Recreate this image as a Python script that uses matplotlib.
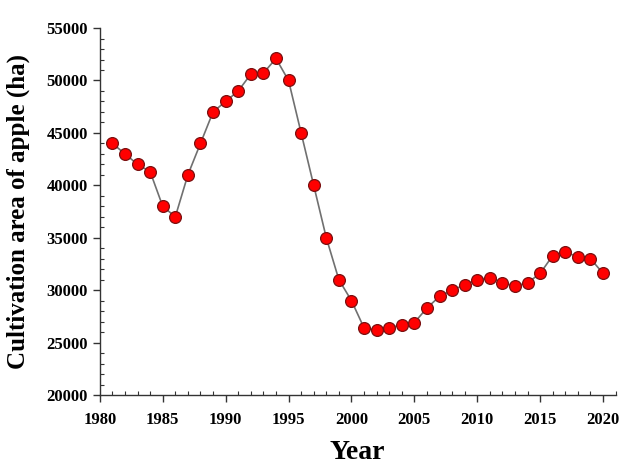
import matplotlib.pyplot as plt
from matplotlib.ticker import MultipleLocator

# Cultivation area of apple, 1981-2020
years = list(range(1981, 2021))
area = [44000, 43000, 42000, 41300, 38000, 37000, 41000, 44000, 47000, 48000,
        49000, 50600, 50700, 52100, 50000, 45000, 40000, 35000, 31000, 29000,
        26400, 26200, 26400, 26700, 26900, 28300, 29400, 30000, 30500, 31000,
        31200, 30700, 30400, 30700, 31600, 33300, 33600, 33200, 33000, 31600]

plt.rcParams['font.family'] = ['Liberation Serif', 'DejaVu Serif']

fig = plt.figure(figsize=(6.2, 4.68), dpi=100)
ax = fig.add_axes([0.161, 0.156, 0.832, 0.784])

ax.plot(years, area, color='#707070', linewidth=1.2, marker='o', markersize=8.5,
        markerfacecolor='red', markeredgecolor='#7a1010', markeredgewidth=0.9)

ax.set_xlim(1980, 2021)
ax.set_ylim(20000, 55000)
ax.xaxis.set_major_locator(MultipleLocator(5))
ax.xaxis.set_minor_locator(MultipleLocator(1))
ax.yaxis.set_major_locator(MultipleLocator(5000))
ax.yaxis.set_minor_locator(MultipleLocator(1000))

for s in ['top', 'right']:
    ax.spines[s].set_visible(False)
for s in ['left', 'bottom']:
    ax.spines[s].set_color('#333333')
    ax.spines[s].set_linewidth(1.0)

ax.tick_params(which='major', direction='out', length=5, width=1, colors='#333333')
ax.tick_params(which='minor', direction='in', length=3, width=0.8, colors='#333333')
ax.tick_params(labelsize=12, labelcolor='black')
ax.tick_params(axis='x', which='major', pad=7)
for lab in ax.get_xticklabels() + ax.get_yticklabels():
    lab.set_fontweight('bold')

ax.set_xlabel('Year', fontsize=20, fontweight='bold', labelpad=9)
ax.set_ylabel('Cultivation area of apple (ha)', fontsize=18, fontweight='bold', labelpad=12)

fig.savefig('out.png', dpi=100)
